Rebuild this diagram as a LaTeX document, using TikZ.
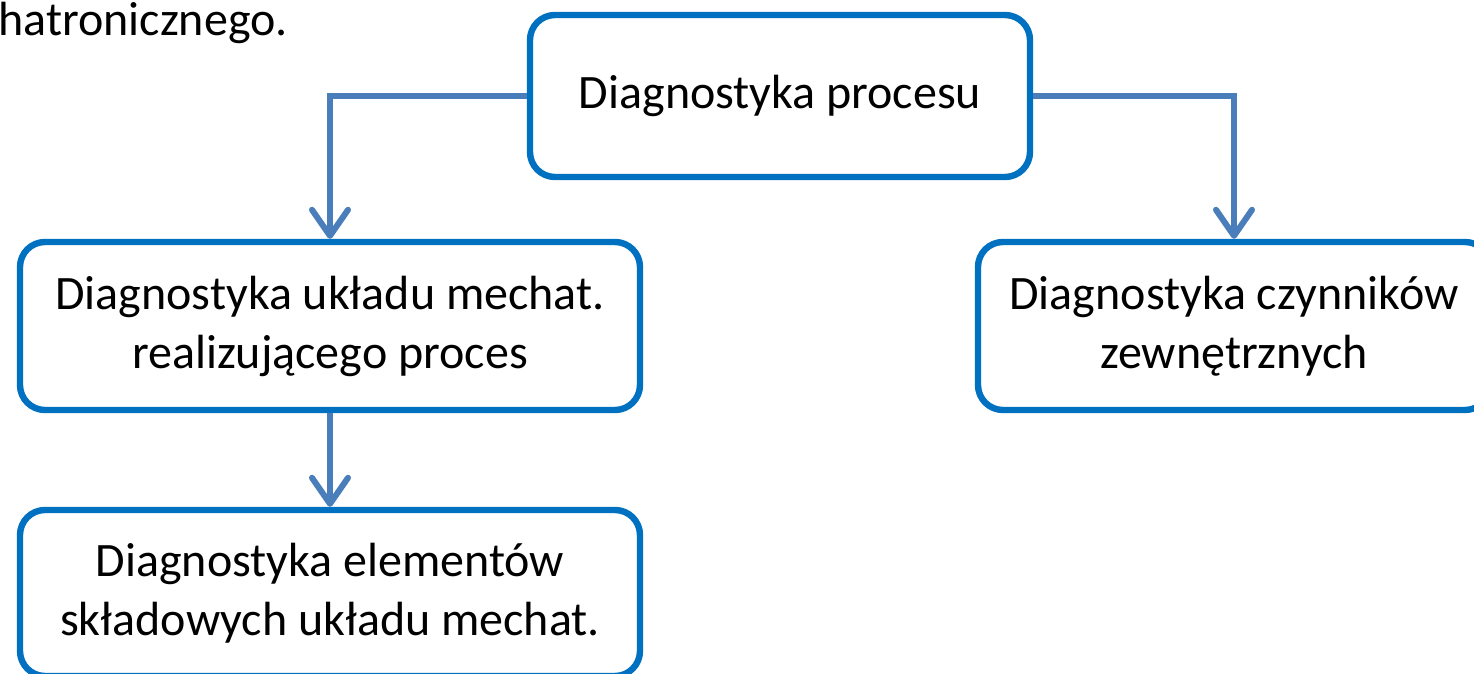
\documentclass[tikz,border=0pt]{standalone}
\usepackage{fontspec}
\setmainfont{Carlito}
\usetikzlibrary{arrows.meta}
\definecolor{boxblue}{HTML}{0070C0}
\definecolor{arrblue}{HTML}{4A7EBB}
\begin{document}
\begin{tikzpicture}[x=0.5pt,y=-0.5pt,
  box/.style={draw=boxblue,line width=3.2pt,rounded corners=12.5pt,fill=white,
    align=center,inner sep=0pt,font=\fontsize{24}{29.5}\selectfont},
  conn/.style={draw=arrblue,line width=3pt,
    -{Straight Barb[length=13pt,width=18pt,round]}}]
\useasboundingbox (0,0) rectangle (1474,674);
\clip (0,0) rectangle (1474,674);
\fill[white] (0,0) rectangle (1474,674);
\node[anchor=west,font=\fontsize{24}{29.5}\selectfont,inner sep=0pt] (cap) at (-2,23) {hatronicznego.};
\node[box,minimum width=250pt,minimum height=81pt] (b1) at (780,96) {\raisebox{-2pt}{Diagnostyka procesu}};
\node[box,minimum width=310pt,minimum height=84pt] (b2) at (330,326) {Diagnostyka układu mechat.\\realizującego proces\rule[-2pt]{0pt}{0pt}};
\node[box,minimum width=256pt,minimum height=84pt] (b3) at (1234,326) {Diagnostyka czynników\\zewnętrznych\rule[-2pt]{0pt}{0pt}};
\node[box,minimum width=310pt,minimum height=83pt] (b4) at (330,593) {Diagnostyka elementów\\składowych układu mechat.\rule[-2pt]{0pt}{0pt}};
\draw[conn] (b1.west) -| (b2.north);
\draw[conn] (b1.east) -| (b3.north);
\draw[conn] (b2.south) -- (b4.north);
\end{tikzpicture}
\end{document}
